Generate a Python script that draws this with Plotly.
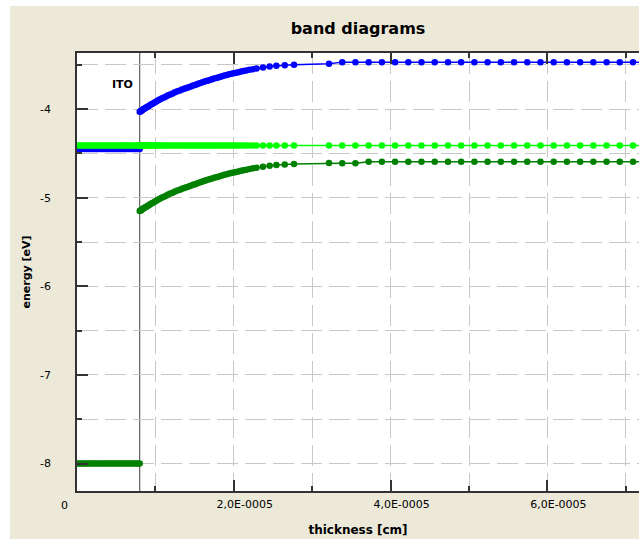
import plotly.graph_objects as go

# ---------------- data (x in units of 1E-5 cm, energies in eV) ----------------
X_UNIT = 1e-5
ito_thickness = 0.80

x_ito = [0.000, 0.025, 0.050, 0.075, 0.100, 0.125, 0.150, 0.175, 0.200, 0.225,
         0.250, 0.275, 0.300, 0.325, 0.350, 0.375, 0.400, 0.425, 0.450, 0.475,
         0.500, 0.525, 0.550, 0.575, 0.600, 0.625, 0.650, 0.675, 0.700, 0.725,
         0.750, 0.775, 0.800]
ec_ito_level = -4.450
ef_ito_level = -4.410
ev_ito_level = -8.000

x_org = [0.800, 0.806, 0.813, 0.821, 0.830, 0.840, 0.851, 0.863, 0.876, 0.890,
         0.905, 0.921, 0.938, 0.956, 0.975, 0.995, 1.016, 1.038, 1.061, 1.085,
         1.110, 1.136, 1.163, 1.191, 1.220, 1.250, 1.281, 1.313,
         1.340, 1.368, 1.396, 1.424, 1.452, 1.480, 1.508, 1.536, 1.564, 1.592,
         1.620, 1.648, 1.676, 1.704, 1.731,
         1.760, 1.790, 1.820, 1.850, 1.880, 1.910, 1.940, 1.970, 2.000, 2.030,
         2.060, 2.092, 2.125, 2.160, 2.200, 2.245, 2.290,
         2.372, 2.457, 2.543, 2.650, 2.768,
         3.214, 3.383, 3.551, 3.720, 3.889, 4.057, 4.226, 4.394, 4.563, 4.732,
         4.900, 5.069, 5.237, 5.406, 5.575, 5.743, 5.912, 6.080, 6.249, 6.418,
         6.586, 6.755, 6.923, 7.092, 7.260]

ec_org = [-4.030, -4.026, -4.022, -4.018, -4.012, -4.006, -4.000, -3.993, -3.986, -3.978,
          -3.970, -3.961, -3.952, -3.943, -3.933, -3.923, -3.912, -3.901, -3.890, -3.879,
          -3.868, -3.857, -3.845, -3.834, -3.823, -3.811, -3.800, -3.789,
          -3.780, -3.771, -3.762, -3.753, -3.744, -3.735, -3.727, -3.718, -3.709, -3.701,
          -3.692, -3.684, -3.676, -3.668, -3.660,
          -3.652, -3.645, -3.637, -3.630, -3.622, -3.615, -3.608, -3.601, -3.595, -3.589,
          -3.583, -3.577, -3.570, -3.564, -3.557, -3.549, -3.542,
          -3.530, -3.520, -3.511, -3.505, -3.499,
          -3.488, -3.470, -3.470, -3.470, -3.470, -3.470, -3.470, -3.470, -3.470, -3.470,
          -3.470, -3.470, -3.470, -3.470, -3.470, -3.470, -3.470, -3.470, -3.470, -3.470,
          -3.470, -3.470, -3.470, -3.470, -3.470]

ev_org = [-5.150, -5.146, -5.142, -5.138, -5.132, -5.126, -5.120, -5.113, -5.106, -5.098,
          -5.090, -5.081, -5.072, -5.063, -5.053, -5.043, -5.032, -5.021, -5.010, -4.999,
          -4.988, -4.977, -4.965, -4.954, -4.943, -4.931, -4.920, -4.909,
          -4.900, -4.891, -4.882, -4.873, -4.864, -4.855, -4.847, -4.838, -4.829, -4.821,
          -4.812, -4.804, -4.796, -4.788, -4.780,
          -4.772, -4.765, -4.757, -4.750, -4.742, -4.735, -4.728, -4.721, -4.715, -4.709,
          -4.703, -4.697, -4.690, -4.684, -4.677, -4.669, -4.662,
          -4.650, -4.640, -4.631, -4.625, -4.619,
          -4.608, -4.610, -4.610, -4.595, -4.595, -4.595, -4.595, -4.595, -4.595, -4.595,
          -4.595, -4.595, -4.595, -4.595, -4.595, -4.595, -4.595, -4.595, -4.595, -4.595,
          -4.595, -4.595, -4.595, -4.595, -4.595]

ef_org_level = -4.410

x_tick_vals = [0.0, 2.0, 4.0, 6.0]
x_tick_text = ["", "2,0E-0005", "4,0E-0005", "6,0E-0005"]
y_tick_vals = [-8, -7, -6, -5, -4]
y_tick_text = ["-8", "-7", "-6", "-5", "-4"]

# ---------------- styling ----------------
BLUE = "#0000FF"
LIME = "#00FF00"
DKGREEN = "#008000"
BEIGE = "#ECE9D8"
GRID = "#C8C8C8"
AXIS = "#333333"
FONT = "DejaVu Sans"

W, H = 639, 539
ML, MR, MT, MB = 77, 0, 53, 48
PW, PH = W - ML - MR, H - MT - MB


def sx(vals):
    return [v * X_UNIT for v in vals]


def band(x, y, color, size=6.5):
    return go.Scatter(x=sx(x), y=y, mode="lines+markers",
                      line=dict(color=color, width=1.5),
                      marker=dict(color=color, size=size, line=dict(width=0)),
                      showlegend=False, hoverinfo="skip", cliponaxis=True)


fig = go.Figure()
fig.add_trace(band(x_ito, [ev_ito_level] * len(x_ito), DKGREEN))
fig.add_trace(band(x_ito, [ec_ito_level] * len(x_ito), BLUE))
fig.add_trace(band(x_ito, [ef_ito_level] * len(x_ito), LIME))
fig.add_trace(band(x_org, ev_org, DKGREEN))
fig.add_trace(band(x_org, ec_org, BLUE))
fig.add_trace(band(x_org, [ef_org_level] * len(x_org), LIME))

x_max = PW / 78.4
y_top, y_bot = -3.367, -8.31

fig.update_layout(
    width=W, height=H,
    margin=dict(l=ML, r=MR, t=MT, b=MB, pad=0),
    paper_bgcolor=BEIGE, plot_bgcolor="white",
    font=dict(family=FONT, size=11, color="black"),
    title=dict(text="band diagrams", x=0.5, xref="paper", xanchor="center",
               y=1 - 28 / H, yref="container", yanchor="middle",
               font=dict(family=FONT, size=16, color="black", weight="bold")),
    xaxis=dict(range=[0, x_max * X_UNIT], showline=True, linecolor=AXIS, linewidth=1.5,
               mirror="ticks", ticks="inside", ticklen=11, tickwidth=1.5, tickcolor=AXIS,
               tickvals=sx(x_tick_vals), ticktext=x_tick_text,
               ticklabelshift=11, ticklabelstandoff=2,
               showgrid=True, gridcolor=GRID, gridwidth=1, griddash="21px,7px",
               zeroline=False,
               minor=dict(dtick=X_UNIT, tick0=0, ticks="inside", ticklen=5,
                          tickwidth=1.5, tickcolor=AXIS, showgrid=True,
                          gridcolor=GRID, gridwidth=1, griddash="21px,7px"),
               title=dict(text="thickness [cm]", standoff=16,
                          font=dict(family=FONT, size=12, color="black", weight="bold"))),
    yaxis=dict(range=[y_bot, y_top], showline=True, linecolor=AXIS, linewidth=1.5,
               mirror=False, ticks="inside", ticklen=11, tickwidth=1.5, tickcolor=AXIS,
               tickvals=y_tick_vals, ticktext=y_tick_text, ticklabelstandoff=22,
               showgrid=True, gridcolor=GRID, gridwidth=1, griddash="21px,7px",
               zeroline=False,
               minor=dict(dtick=0.5, tick0=-4, ticks="inside", ticklen=5,
                          tickwidth=1.5, tickcolor=AXIS, showgrid=True,
                          gridcolor=GRID, gridwidth=1, griddash="21px,7px"),
               title=dict(text="energy [eV]", standoff=7,
                          font=dict(family=FONT, size=11, color="black", weight="bold"))),
    shapes=[
        dict(type="line", xref="x", yref="paper", x0=ito_thickness * X_UNIT,
             x1=ito_thickness * X_UNIT, y0=0, y1=1, layer="between",
             line=dict(color="#404040", width=1)),
        dict(type="rect", xref="paper", yref="paper", layer="above",
             x0=-ML / PW - 0.01, x1=(10 - ML) / PW, y0=-MB / PH - 0.01, y1=(PH + MT) / PH + 0.01,
             fillcolor="white", line=dict(width=0)),
        dict(type="rect", xref="paper", yref="paper", layer="above",
             x0=-ML / PW - 0.01, x1=1.01, y0=(PH + MT - 6) / PH, y1=(PH + MT) / PH + 0.01,
             fillcolor="white", line=dict(width=0)),
    ],
    annotations=[
        dict(text="ITO", xref="x", yref="y", x=0.574 * X_UNIT, y=-3.725,
             showarrow=False, font=dict(family=FONT, size=11, color="black", weight="bold")),
        dict(text="0", xref="paper", yref="paper", x=(64 - ML) / PW, y=(-14) / PH,
             showarrow=False, xanchor="center", yanchor="middle",
             font=dict(family=FONT, size=11, color="black")),
    ],
)

fig.write_html("out.html", config={"displayModeBar": False})
